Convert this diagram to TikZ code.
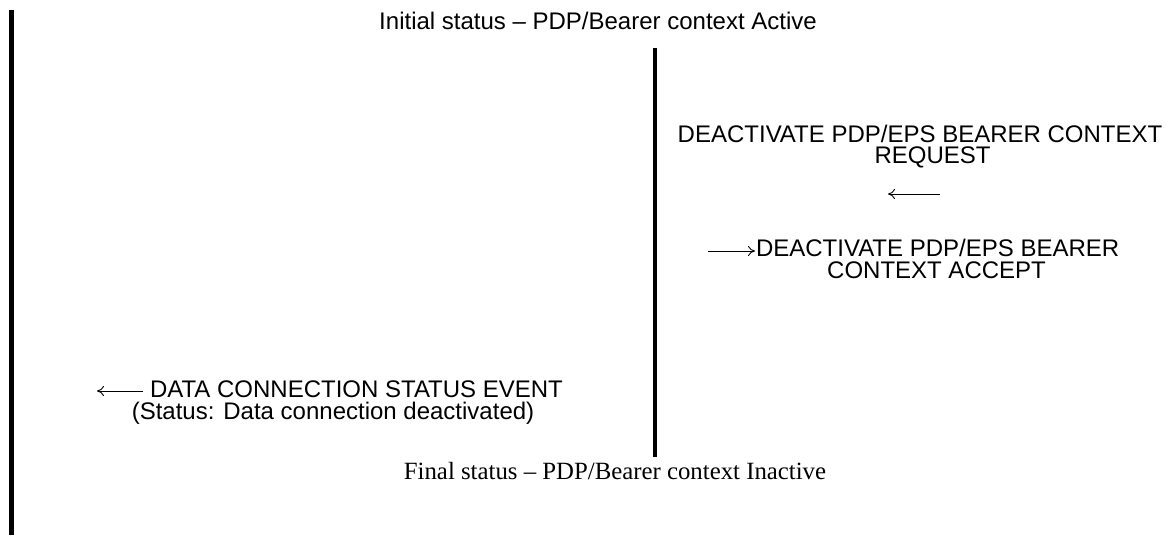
\documentclass[tikz,border=0pt]{standalone}
\usepackage{fontspec}
\setmainfont{Liberation Sans}
\newfontfamily\serifface{Liberation Serif}
\usetikzlibrary{arrows.meta}
\begin{document}
\begin{tikzpicture}[x=0.5pt,y=-0.5pt,
  lbl/.style={inner sep=0pt, outer sep=0pt, font=\fontsize{12}{10.5}\selectfont, anchor=base},
  serifl/.style={lbl, font=\serifface\fontsize{12.4}{14}\selectfont},
  lifeline/.style={line width=2.25pt},
  msg/.style={line width=0.45pt, -{To[length=3.5pt,width=5pt]}}]
\useasboundingbox (0,0) rectangle (1171,535);
% lifelines
\coordinate (lt) at (11.5,10);
\coordinate (lb) at (11.5,535);
\coordinate (mt) at (655,48);
\coordinate (mb) at (655,457);
\draw[lifeline] (lt) -- (lb);
\draw[lifeline] (mt) -- (mb);
% texts
\node[lbl] (init) at (598,30) {Initial status – PDP/Bearer context Active};
\node[lbl] (req1) at (920,142) {DEACTIVATE PDP/EPS BEARER CONTEXT};
\node[lbl] (req2) at (932.5,163) {REQUEST};
\node[lbl, anchor=base west] (acc1) at (756,256) {DEACTIVATE PDP/EPS BEARER};
\node[lbl] (acc2) at (936.5,278) {CONTEXT ACCEPT};
\node[lbl, anchor=base west] (data1) at (150,397) {DATA CONNECTION STATUS EVENT};
\node[lbl] (data2) at (333,419) {(Status: Data connection deactivated)};
\node[serifl] (fin) at (615,479) {Final status – PDP/Bearer context Inactive};
% message arrows
\coordinate (ra) at (940,194);
\coordinate (rb) at (888,194);
\draw[msg] (ra) -- (rb);
\coordinate (aa) at (708,251);
\coordinate (ab) at (755,251);
\draw[msg] (aa) -- (ab);
\coordinate (da) at (143,391);
\coordinate (db) at (97,391);
\draw[msg] (da) -- (db);
\end{tikzpicture}
\end{document}
